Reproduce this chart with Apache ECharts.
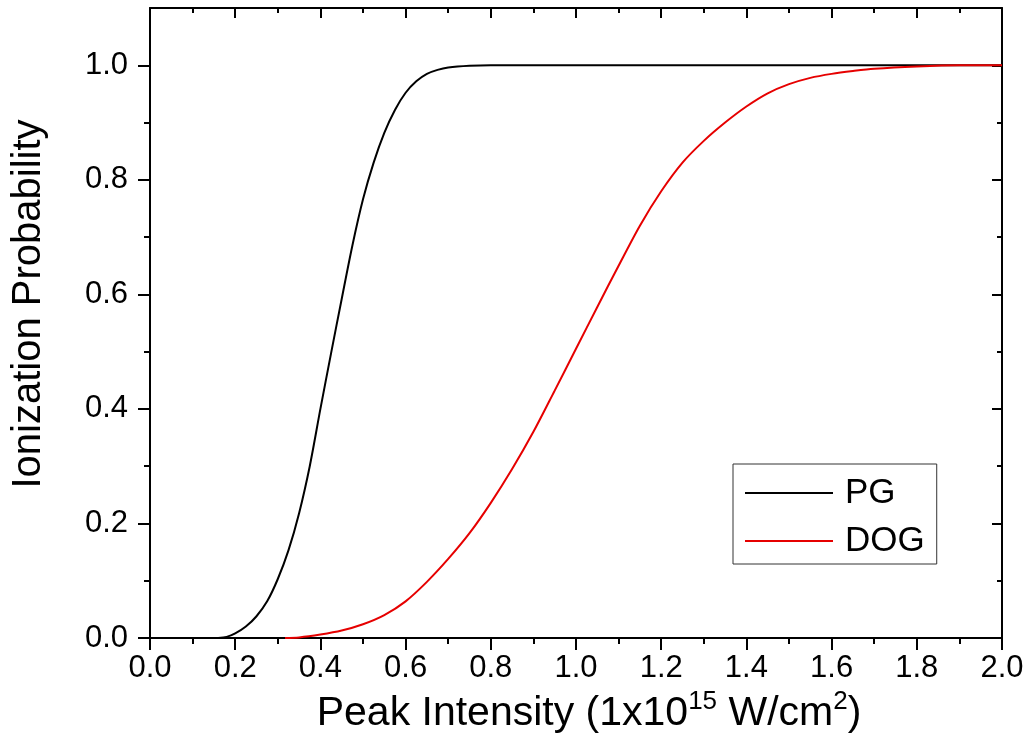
<!DOCTYPE html>
<html>
<head>
<meta charset="utf-8">
<script src="https://cdn.jsdelivr.net/npm/echarts@6/dist/echarts.min.js"></script>
<style>html,body{margin:0;padding:0;background:#fff;}#c{width:1029px;height:753px;}</style>
</head>
<body>
<div id="c"></div>
<script>
// ---- data ----
var pgX  = [0.16, 0.18, 0.20, 0.225, 0.25, 0.275, 0.30, 0.325, 0.35, 0.375, 0.40, 0.425, 0.45, 0.475, 0.50, 0.525, 0.55, 0.575, 0.60, 0.625, 0.65, 0.675, 0.70, 0.75, 0.80, 1.0, 1.5, 2.0];
var pgY  = [0.0, 0.002, 0.008, 0.02, 0.038, 0.064, 0.103, 0.153, 0.218, 0.3, 0.4, 0.497, 0.592, 0.685, 0.766, 0.83, 0.882, 0.922, 0.952, 0.972, 0.985, 0.992, 0.996, 0.999, 1.0, 1.0, 1.0, 1.0];
var dogX = [0.317, 0.35, 0.40, 0.45, 0.50, 0.55, 0.60, 0.65, 0.70, 0.75, 0.80, 0.85, 0.90, 0.95, 1.0, 1.05, 1.10, 1.15, 1.20, 1.25, 1.30, 1.35, 1.40, 1.45, 1.50, 1.55, 1.60, 1.65, 1.70, 1.80, 1.90, 2.0];
var dogY = [0.0, 0.001, 0.006, 0.013, 0.024, 0.04, 0.064, 0.098, 0.138, 0.183, 0.236, 0.295, 0.36, 0.432, 0.505, 0.578, 0.65, 0.72, 0.78, 0.83, 0.868, 0.9, 0.928, 0.951, 0.967, 0.978, 0.985, 0.99, 0.994, 0.998, 1.0, 1.0];
var seriesNames = ['PG', 'DOG'];
var yMajorTicks = [0, 0.2, 0.4, 0.6, 0.8, 1.0];
var yMinorTicks = [0.1, 0.3, 0.5, 0.7, 0.9];
var xTitle = 'Peak Intensity (1x10{sup|15} W/cm{sup|2})';
var yTitle = 'Ionization Probability';

function pairs(xs, ys) { return xs.map(function (x, i) { return [x, ys[i]]; }); }

var FONT = 'Arial, "Liberation Sans", sans-serif';
var BLACK = '#000';
var RED = '#e60000';

function xAx(pos, inside, labels, majorLen, minorLen) {
  return {
    type: 'value', position: pos, min: 0, max: 2, interval: 0.2,
    axisLine: { show: true, onZero: false, lineStyle: { color: BLACK, width: 2 } },
    axisTick: { show: true, inside: inside, length: majorLen, lineStyle: { color: BLACK, width: 2 } },
    minorTick: { show: true, splitNumber: 2, length: minorLen, lineStyle: { color: BLACK, width: 2 } },
    axisLabel: { show: labels, fontSize: 31, color: BLACK, fontFamily: FONT, margin: 15,
      formatter: function (v) { return v.toFixed(1); } },
    splitLine: { show: false }, minorSplitLine: { show: false }
  };
}
function yAx(pos, inside, labels, ticks, len, line) {
  return {
    type: 'value', position: pos, min: 0, max: 1.1, interval: 0.1,
    axisLine: { show: line, onZero: false, lineStyle: { color: BLACK, width: 2 } },
    axisTick: { show: true, inside: inside, length: len, customValues: ticks, lineStyle: { color: BLACK, width: 2 } },
    axisLabel: { show: labels, customValues: ticks, fontSize: 31, color: BLACK, fontFamily: FONT, margin: 22,
      formatter: function (v) { return v.toFixed(1); } },
    splitLine: { show: false }
  };
}

var option = {
  backgroundColor: '#fff',
  animation: false,
  grid: { left: 150, right: 27, top: 8, bottom: 115, containLabel: false },
  xAxis: [xAx('bottom', false, true, 12, 6), xAx('top', true, false, 10, 5)],
  yAxis: [
    yAx('left', false, true, yMajorTicks, 12, true),
    yAx('left', false, false, yMinorTicks, 6, false),
    yAx('right', true, false, yMajorTicks, 10, true),
    yAx('right', true, false, yMinorTicks, 5, false)
  ],
  graphic: [
    { type: 'text', x: 589, y: 714, silent: true,
      style: { text: xTitle, fontSize: 41, fontFamily: FONT, fill: BLACK, align: 'center', verticalAlign: 'middle',
        rich: { sup: { fontSize: 26, fontFamily: FONT, fill: BLACK, padding: [0, 0, 24, 0] } } } },
    { type: 'text', x: 29, y: 304, rotation: Math.PI / 2, silent: true,
      style: { text: yTitle, fontSize: 40, fontFamily: FONT, fill: BLACK, align: 'center', verticalAlign: 'middle' } }
  ],
  legend: {
    orient: 'vertical', left: 733, top: 464,
    data: seriesNames,
    icon: 'rect',
    itemWidth: 88, itemHeight: 2, itemGap: 8,
    padding: [9, 12, 3, 12],
    borderColor: '#333', borderWidth: 1, backgroundColor: '#fff',
    textStyle: { fontSize: 35, color: BLACK, fontFamily: FONT, lineHeight: 40, padding: [0, 0, 0, 7] }
  },
  series: [
    { name: seriesNames[0], type: 'line', xAxisIndex: 0, yAxisIndex: 0, data: pairs(pgX, pgY),
      showSymbol: false, symbol: 'none', smooth: 0.3,
      lineStyle: { color: BLACK, width: 2 }, itemStyle: { color: BLACK } },
    { name: seriesNames[1], type: 'line', xAxisIndex: 0, yAxisIndex: 0, data: pairs(dogX, dogY),
      showSymbol: false, symbol: 'none', smooth: 0.3,
      lineStyle: { color: RED, width: 2 }, itemStyle: { color: RED } }
  ]
};
var chart = echarts.init(document.getElementById('c'), null, { renderer: 'canvas' });
chart.setOption(option);
</script>
</body>
</html>
